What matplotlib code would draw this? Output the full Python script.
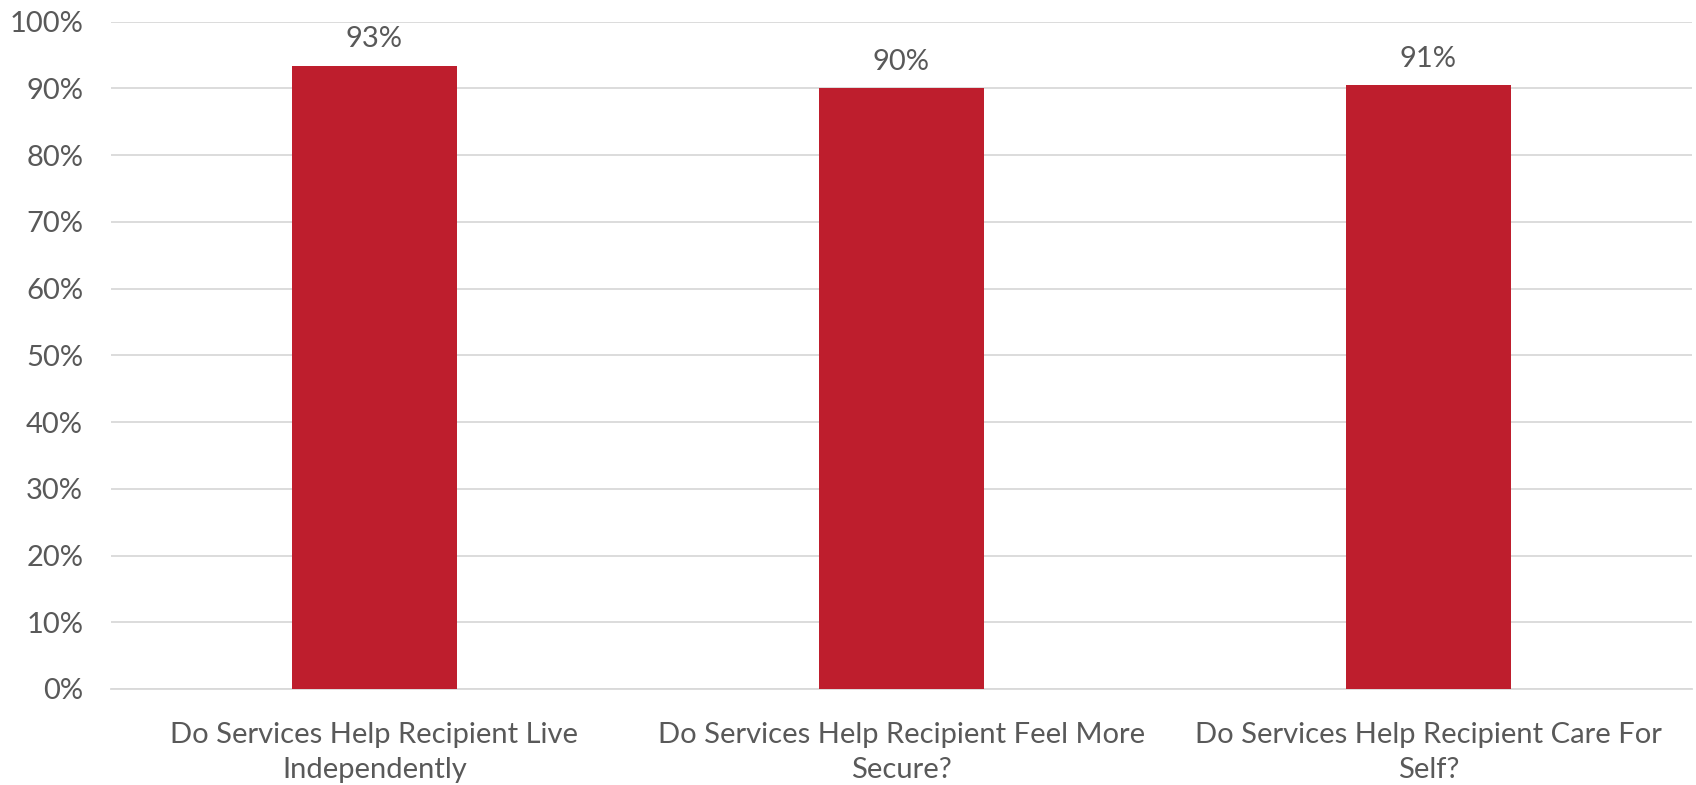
import matplotlib
matplotlib.use('Agg')
from matplotlib import pyplot as plt
from matplotlib.ticker import PercentFormatter

categories = ['Do Services Help Recipient Live\nIndependently',
              'Do Services Help Recipient Feel More\nSecure?',
              'Do Services Help Recipient Care For\nSelf?']
values = [0.934, 0.90, 0.905]
labels = ['93%', '90%', '91%']

plt.rcParams['font.family'] = ['Lato', 'DejaVu Sans']
grey = '#595959'

fig = plt.figure(figsize=(16.96, 7.85), dpi=100)
ax = fig.add_axes([0.0654, 0.1223, 0.9322, 0.8502])

x = range(len(categories))
bars = ax.bar(x, values, width=0.313, color='#BE1E2D', zorder=3)
for b, lab in zip(bars, labels):
    ax.text(b.get_x() + b.get_width() / 2, b.get_height() + 0.02, lab,
            ha='center', va='bottom', fontsize=21, color=grey)

ax.set_xlim(-0.5, 2.5)
ax.set_ylim(0, 1.0)
ax.set_yticks([i / 10 for i in range(11)])
ax.yaxis.set_major_formatter(PercentFormatter(1.0, decimals=0))
ax.set_xticks(list(x))
ax.set_xticklabels(categories, fontsize=21, color=grey, linespacing=1.4)
ax.tick_params(axis='y', labelsize=21, labelcolor=grey, length=0, pad=20)
ax.tick_params(axis='x', length=0, pad=24)

ax.grid(axis='y', color='#D9D9D9', linewidth=1.3, zorder=0)
for s in ['top', 'right', 'left']:
    ax.spines[s].set_visible(False)
ax.spines['bottom'].set_color('#D9D9D9')
ax.spines['bottom'].set_linewidth(1.3)

fig.savefig('out.png', dpi=100, facecolor='white')
